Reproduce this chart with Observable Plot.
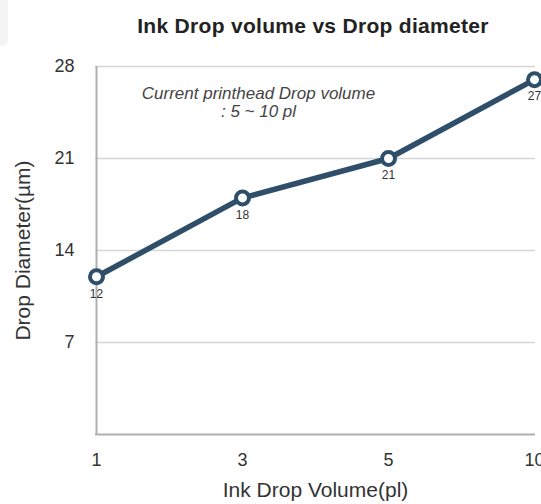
<!DOCTYPE html>
<html>
<head>
<meta charset="utf-8">
<script src="https://cdn.jsdelivr.net/npm/d3@7"></script>
<script src="https://cdn.jsdelivr.net/npm/@observablehq/plot@0.6"></script>
<style>
  html, body { margin: 0; padding: 0; background: #fff; }
  body { width: 541px; height: 504px; overflow: hidden; font-family: "Liberation Sans", Arial, sans-serif; position: relative; }
  #corner { position: absolute; left: 0; top: 0; width: 8px; height: 46px; background: #f3f3f3; border-bottom-right-radius: 6px; }
  #title { height: 45px; box-sizing: border-box; padding-top: 14px; padding-left: 85px; text-align: center; font-weight: bold; font-size: 21px; letter-spacing: 0.3px; color: #222; line-height: 24px; white-space: nowrap; }
</style>
</head>
<body>
<div id="corner"></div>
<div id="title">Ink Drop volume vs Drop diameter</div>
<div id="chart"></div>
<script>
const volumes = ["1", "3", "5", "10"];
const diameters = [12, 18, 21, 27];
const yTicks = [7, 14, 21, 28];
const note = ["Current printhead Drop volume", ": 5 ~ 10 pl"];

const data = volumes.map((v, i) => ({volume: v, diameter: diameters[i]}));
const lineColor = "#2f4e69";

const chart = Plot.plot({
  width: 541,
  height: 459,
  marginLeft: 95,
  marginRight: 6,
  marginTop: 21,
  marginBottom: 70,
  style: {fontFamily: "'Liberation Sans', Arial, sans-serif", color: "#333", background: "#fff"},
  x: {type: "point", domain: volumes, padding: 0},
  y: {domain: [0, 28]},
  marks: [
    Plot.gridY(yTicks, {stroke: "#d6d6d6", strokeOpacity: 1, strokeWidth: 1.5}),
    Plot.ruleY([0], {stroke: "#b0b0b0", strokeWidth: 2}),
    Plot.ruleX([volumes[0]], {stroke: "#b0b0b0", strokeWidth: 2}),
    Plot.axisY({ticks: yTicks, tickSize: 0, tickPadding: 21, fontSize: 18, label: "Drop Diameter(µm)", labelAnchor: "center", labelArrow: "none", labelOffset: 80}),
    Plot.axisX({tickSize: 0, tickPadding: 19, fontSize: 18, label: "Ink Drop Volume(pl)", labelAnchor: "center", labelArrow: "none", labelOffset: 62}),
    Plot.text([note.join("\n")], {frameAnchor: "top", dx: -57, dy: 20, lineAnchor: "top", fontSize: 17, fontStyle: "italic", fill: "#444", lineHeight: 1.06}),
    Plot.line(data, {x: "volume", y: "diameter", stroke: lineColor, strokeWidth: 5.5}),
    Plot.dot(data, {x: "volume", y: "diameter", r: 6.5, fill: "#fff", stroke: lineColor, strokeWidth: 4}),
    Plot.text(data, {x: "volume", y: "diameter", text: d => String(d.diameter), dy: 17, fontSize: 12, fill: "#333"})
  ]
});
document.getElementById("chart").appendChild(chart);
chart.querySelectorAll("g[aria-label='y-axis label'], g[aria-label='x-axis label']").forEach(g => g.setAttribute("font-size", "21"));
</script>
</body>
</html>
